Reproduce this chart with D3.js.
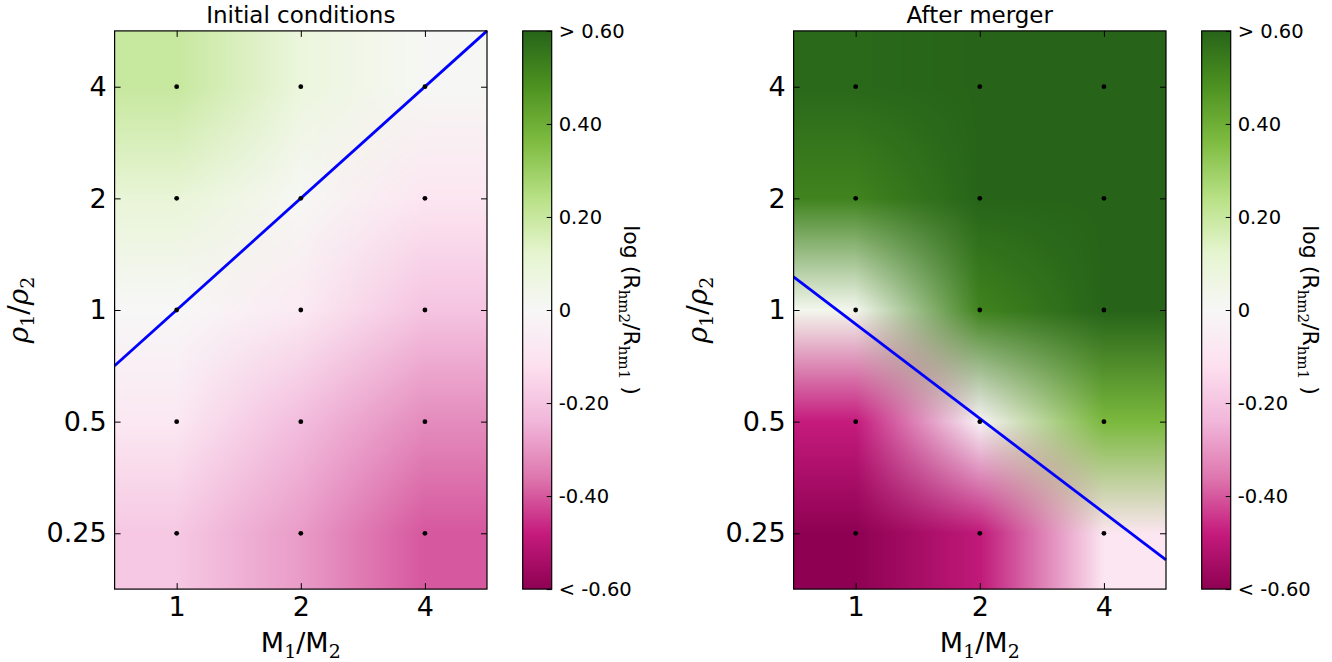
<!DOCTYPE html>
<meta charset='utf-8'>
<body style="margin:0;background:#fff">
<script src='https://d3js.org/d3.v7.min.js'></script>
<script>
  // simulation grid
  const massRatio = [1, 2, 4];
  const densityRatio = [4, 2, 1, 0.5, 0.25];

  // log(Rhm2/Rhm1): one row per density ratio (top to bottom), one column per mass ratio
  const initialValues = [
    [0.20, 0.08, 0.01],
    [0.10, 0.01, -0.09],
    [0.00, -0.07, -0.20],
    [-0.08, -0.22, -0.32],
    [-0.19, -0.29, -0.40]
  ];
  const mergerValues = [
    [0.59, 0.61, 0.62],
    [0.52, 0.60, 0.62],
    [0.03, 0.52, 0.60],
    [-0.48, -0.02, 0.37],
    [-0.65, -0.49, -0.09]
  ];

  const titles = ['Initial conditions', 'After merger'];

  // blue dividing lines, end points as [M1/M2, rho1/rho2]
  const initialLine = [[0.7071, 0.7071], [5.657, 5.657]];
  const mergerLine = [[0.7071, 1.228], [5.657, 0.2119]];

  const cbarTicks = [-0.6, -0.4, -0.2, 0, 0.2, 0.4, 0.6];
  const cbarLabels = ['< -0.60', '-0.40', '-0.20', '0', '0.20', '0.40', '> 0.60'];

  const panelLeft = [114.6, 793.6];
  const plotTop = 30.9;
  const width = 372.4;
  const height = 558.2;
  const cbarOffset = 408.1;
  const cbarWidth = 29;

  const sans = "'DejaVu Sans', sans-serif";
  const serif = "'DejaVu Serif', 'Liberation Serif', serif";

  // matplotlib PiYG: linear between the 11 brewer colours
  const cmap = d3.scaleLinear()
    .domain(d3.range(11).map(i => -0.6 + i * 0.12))
    .range(d3.schemePiYG[11])
    .interpolate(d3.interpolateRgb)
    .clamp(true);

  const svg = d3.select('body').append('svg')
    .attr('width', 1332)
    .attr('height', 662)
    .style('font-family', sans);

  const defs = svg.append('defs');
  const grad = defs.append('linearGradient')
    .attr('id', 'cbarGrad')
    .attr('x1', '0%').attr('x2', '0%')
    .attr('y1', '100%').attr('y2', '0%');
  d3.schemePiYG[11].forEach((c, i) => {
    grad.append('stop').attr('offset', `${i * 10}%`).attr('stop-color', c);
  });

  const x = d3.scaleLog().base(2)
    .domain([Math.SQRT1_2, 4 * Math.SQRT2])
    .range([0, width]);
  const y = d3.scaleLog().base(2)
    .domain([0.25 * Math.SQRT1_2, 4 * Math.SQRT2])
    .range([height, 0]);

  // fractional grid index from data value
  const col = d3.scaleLog().base(2).domain([1, 4]).range([0, massRatio.length - 1]).clamp(true);
  const row = d3.scaleLog().base(2).domain([4, 0.25]).range([0, densityRatio.length - 1]).clamp(true);

  const line = d3.line()
    .x(d => x(d[0]))
    .y(d => y(d[1]));

  function heatmap(values) {
    // colour each cell, then blend the colours bilinearly (as the old image renderer did)
    const rgb = values.map(r => r.map(v => d3.rgb(cmap(v))));
    const W = Math.round(width), H = Math.round(height);
    const canvas = document.createElement('canvas');
    canvas.width = W;
    canvas.height = H;
    const ctx = canvas.getContext('2d');
    const img = ctx.createImageData(W, H);
    const nc = massRatio.length - 1, nr = densityRatio.length - 1;
    for (let j = 0; j < H; j++) {
      const fj = row(y.invert((j + 0.5) * height / H));
      const j0 = Math.min(Math.floor(fj), nr - 1), ty = fj - j0;
      for (let i = 0; i < W; i++) {
        const fi = col(x.invert((i + 0.5) * width / W));
        const i0 = Math.min(Math.floor(fi), nc - 1), tx = fi - i0;
        const a = rgb[j0][i0], b = rgb[j0][i0 + 1], c = rgb[j0 + 1][i0], d = rgb[j0 + 1][i0 + 1];
        const k = (j * W + i) * 4;
        ['r', 'g', 'b'].forEach((ch, n) => {
          const t = a[ch] * (1 - tx) + b[ch] * tx;
          const s = c[ch] * (1 - tx) + d[ch] * tx;
          img.data[k + n] = Math.round(t * (1 - ty) + s * ty);
        });
        img.data[k + 3] = 255;
      }
    }
    ctx.putImageData(img, 0, 0);
    return canvas.toDataURL();
  }

  function styleAxis(sel, size) {
    sel.select('.domain').remove();
    sel.attr('font-family', sans).attr('font-size', size);
    sel.selectAll('line').attr('stroke', '#000');
  }

  [initialValues, mergerValues].forEach((values, p) => {
    const g = svg.append('g')
      .attr('transform', `translate(${panelLeft[p]}, ${plotTop})`);

    g.append('image')
      .attr('href', heatmap(values))
      .attr('width', width)
      .attr('height', height)
      .attr('preserveAspectRatio', 'none');

    const lineData = p === 0 ? initialLine : mergerLine;
    g.append('path')
      .datum(lineData)
      .attr('d', line)
      .attr('fill', 'none')
      .attr('stroke', '#0000ff')
      .attr('stroke-width', 2.8);

    const pts = [];
    densityRatio.forEach(dr => massRatio.forEach(mr => pts.push([mr, dr])));
    g.selectAll('circle.pt')
      .data(pts)
      .join('circle')
      .attr('class', 'pt')
      .attr('cx', d => x(d[0]))
      .attr('cy', d => y(d[1]))
      .attr('r', 2.4)
      .attr('fill', '#000');

    // axes, ticks pointing inwards on all four sides
    g.append('g')
      .attr('transform', `translate(0, ${height})`)
      .call(d3.axisBottom(x).tickValues(massRatio).tickFormat(d3.format('')).tickSizeInner(-6).tickSizeOuter(0).tickPadding(8))
      .call(styleAxis, 27);
    g.append('g')
      .call(d3.axisTop(x).tickValues(massRatio).tickFormat('').tickSizeInner(-6).tickSizeOuter(0))
      .call(styleAxis, 27);
    g.append('g')
      .call(d3.axisLeft(y).tickValues(densityRatio).tickFormat(d3.format('')).tickSizeInner(-6).tickSizeOuter(0).tickPadding(8))
      .call(styleAxis, 27);
    g.append('g')
      .attr('transform', `translate(${width}, 0)`)
      .call(d3.axisRight(y).tickValues(densityRatio).tickFormat('').tickSizeInner(-6).tickSizeOuter(0))
      .call(styleAxis, 27);

    g.append('rect')
      .attr('width', width)
      .attr('height', height)
      .attr('fill', 'none')
      .attr('stroke', '#000')
      .attr('stroke-width', 1.2);

    g.append('text')
      .attr('x', width / 2)
      .attr('y', -8)
      .attr('text-anchor', 'middle')
      .attr('font-size', 23)
      .text(titles[p]);

    // x label M1/M2
    const xl = g.append('text')
      .attr('x', width / 2)
      .attr('y', height + 63)
      .attr('text-anchor', 'middle')
      .attr('font-size', 27);
    xl.append('tspan').text('M');
    xl.append('tspan').attr('font-family', serif).attr('font-size', 19).attr('dy', 6).text('1');
    xl.append('tspan').attr('dy', -6).text('/M');
    xl.append('tspan').attr('font-family', serif).attr('font-size', 19).attr('dy', 6).text('2');

    // y label rho1/rho2
    const yl = g.append('text')
      .attr('transform', `translate(${28 - panelLeft[0]}, ${height / 2}) rotate(-90)`)
      .attr('text-anchor', 'middle')
      .attr('font-family', serif)
      .attr('font-size', 28);
    yl.append('tspan').attr('font-style', 'italic').text('ρ');
    yl.append('tspan').attr('font-size', 19).attr('dy', 6).text('1');
    yl.append('tspan').attr('dy', -6).text('/');
    yl.append('tspan').attr('font-style', 'italic').text('ρ');
    yl.append('tspan').attr('font-size', 19).attr('dy', 6).text('2');

    // colour bar
    const cb = g.append('g')
      .attr('transform', `translate(${cbarOffset}, 0)`);
    const cy = d3.scaleLinear().domain([-0.6, 0.6]).range([height, 0]);
    cb.append('rect')
      .attr('width', cbarWidth)
      .attr('height', height)
      .attr('fill', 'url(#cbarGrad)');
    cb.append('g')
      .attr('transform', `translate(${cbarWidth}, 0)`)
      .call(d3.axisRight(cy).tickValues(cbarTicks).tickFormat((d, i) => cbarLabels[i]).tickSizeInner(-5).tickSizeOuter(0).tickPadding(7))
      .call(styleAxis, 19.5);
    cb.append('rect')
      .attr('width', cbarWidth)
      .attr('height', height)
      .attr('fill', 'none')
      .attr('stroke', '#000')
      .attr('stroke-width', 1.2);

    const cl = cb.append('text')
      .attr('transform', `translate(${624 - panelLeft[0] - cbarOffset}, ${height / 2}) rotate(90)`)
      .attr('text-anchor', 'middle')
      .attr('font-size', 22);
    cl.append('tspan').text('log (R');
    cl.append('tspan').attr('font-family', serif).attr('font-size', 15).attr('dy', 5).text('hm2');
    cl.append('tspan').attr('dy', -5).text('/R');
    cl.append('tspan').attr('font-family', serif).attr('font-size', 15).attr('dy', 5).text('hm1');
    cl.append('tspan').attr('dy', -5).text(' )');
  });
</script>
